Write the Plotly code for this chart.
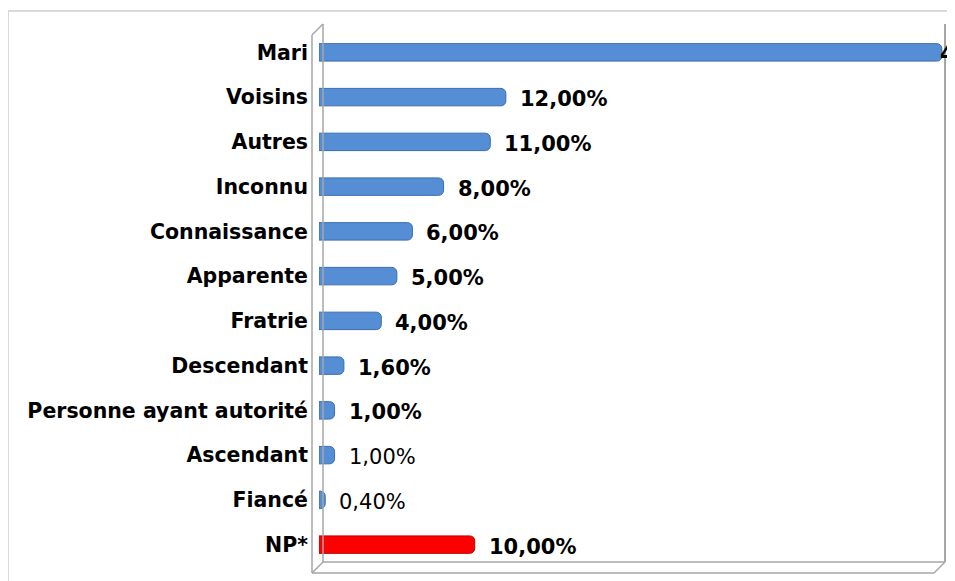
import plotly.graph_objects as go

categories = ["Mari", "Voisins", "Autres", "Inconnu", "Connaissance", "Apparente",
              "Fratrie", "Descendant", "Personne ayant autorité", "Ascendant", "Fiancé", "NP*"]
values = [40.0, 12.0, 11.0, 8.0, 6.0, 5.0, 4.0, 1.6, 1.0, 1.0, 0.4, 10.0]
value_labels = ["40,00%", "12,00%", "11,00%", "8,00%", "6,00%", "5,00%", "4,00%",
                "1,60%", "1,00%", "1,00%", "0,40%", "10,00%"]
label_bold = [True, True, True, True, True, True, True, True, True, False, False, True]

# page has an 8px body margin: figure coordinates = page coordinates - 8
OFF = 8
W, H = 947, 573
L, R_, T, B = 311, 10, 22, 14
PW, PH = W - L - R_, H - T - B
XMAX = 40.2

def px(x):
    return (x - OFF - L) / PW

def py(y):
    return (H - B - (y - OFF)) / PH

blue, blue_line = "#558ED5", "#3A6DAE"
red, red_line = "#FF0000", "#C00000"
colors = [red if c == "NP*" else blue for c in categories]
lines = [red_line if c == "NP*" else blue_line for c in categories]

fig = go.Figure(go.Bar(
    y=categories, x=values, orientation="h", width=0.39,
    marker=dict(color=colors, line=dict(color=lines, width=1), cornerradius=5),
    hoverinfo="skip", cliponaxis=False,
))

annotations = []
for c, v, t, b in zip(categories, values, value_labels, label_bold):
    near_edge = v / XMAX > 0.95
    annotations.append(dict(
        x=v, y=c, xref="x", yref="y", text=f"<b>{t}</b>" if b else t,
        showarrow=False, xanchor="left", yanchor="middle",
        xshift=-4 if near_edge else 12, yshift=-2,
        font=dict(family="DejaVu Sans", size=21, color="black"),
    ))

frame = "#A6A6A6"
shapes = [
    # outer chart border
    dict(type="line", xref="paper", yref="paper", x0=px(8), x1=px(8), y0=py(11), y1=py(590),
         line=dict(color="#D9D9D9", width=2)),
    dict(type="line", xref="paper", yref="paper", x0=px(8), x1=px(970), y0=py(11), y1=py(11),
         line=dict(color="#D9D9D9", width=2)),
    # back wall
    dict(type="line", xref="paper", yref="paper", x0=px(323), x1=px(323), y0=py(24), y1=py(562),
         line=dict(color=frame, width=1.5)),
    dict(type="line", xref="paper", yref="paper", x0=px(945), x1=px(945), y0=py(24), y1=py(562),
         line=dict(color=frame, width=2)),
    dict(type="line", xref="paper", yref="paper", x0=px(323), x1=px(945), y0=py(562), y1=py(562),
         line=dict(color=frame, width=1.5)),
    # left wall front
    dict(type="line", xref="paper", yref="paper", x0=px(312), x1=px(312), y0=py(35), y1=py(573),
         line=dict(color=frame, width=1.5)),
    dict(type="line", xref="paper", yref="paper", x0=px(312), x1=px(323), y0=py(35), y1=py(24),
         line=dict(color=frame, width=1.5)),
    # floor front
    dict(type="line", xref="paper", yref="paper", x0=px(312), x1=px(934), y0=py(573), y1=py(573),
         line=dict(color=frame, width=1.5)),
    dict(type="line", xref="paper", yref="paper", x0=px(312), x1=px(323), y0=py(573), y1=py(562),
         line=dict(color=frame, width=1.5)),
    dict(type="line", xref="paper", yref="paper", x0=px(934), x1=px(945), y0=py(573), y1=py(562),
         line=dict(color=frame, width=1.5)),
]

fig.update_layout(
    width=W, height=H,
    margin=dict(l=L, r=R_, t=T, b=B, pad=0),
    paper_bgcolor="white", plot_bgcolor="white",
    showlegend=False,
    annotations=annotations,
    shapes=shapes,
    xaxis=dict(range=[0, XMAX], showgrid=False, zeroline=False, showticklabels=False,
               showline=False, fixedrange=True),
    yaxis=dict(categoryorder="array", categoryarray=categories, autorange="reversed",
               showgrid=False, zeroline=False, showline=False, ticks="",
               ticklabelstandoff=10,
               tickfont=dict(family="DejaVu Sans", size=20.5, color="black", weight="bold"),
               fixedrange=True),
)

fig.write_html("out.html")
